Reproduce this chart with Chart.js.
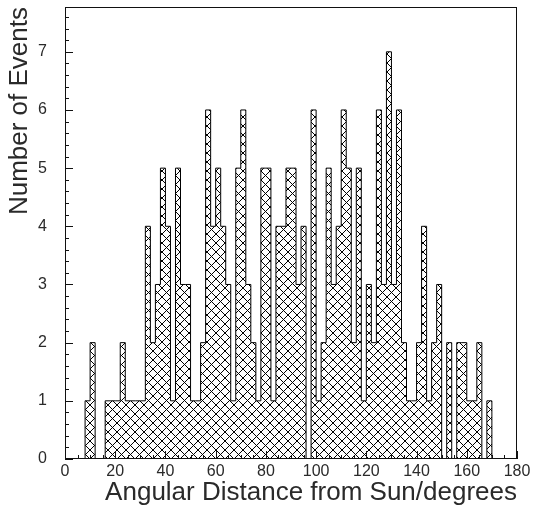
<!DOCTYPE html>
<html>
<head>
<meta charset="utf-8">
<script src="https://cdn.jsdelivr.net/npm/chart.js@4"></script>
<style>
  html, body { margin: 0; padding: 0; background: #fff; }
  #wrap { width: 535px; height: 506px; }
</style>
</head>
<body>
<div id="wrap"><canvas id="chart" width="535" height="506"></canvas></div>
<script>
// histogram: 2 degree bins from 0 to 180
const binWidth = 2;
const counts = [
  0, 0, 0, 0, 1, 2, 0, 0, 1, 1,   // 0-20
  1, 2, 1, 1, 1, 1, 4, 2, 3, 5,   // 20-40
  4, 1, 5, 3, 3, 1, 1, 2, 6, 4,   // 40-60
  5, 4, 3, 1, 5, 6, 3, 2, 1, 5,   // 60-80
  5, 1, 4, 4, 5, 5, 3, 4, 0, 6,   // 80-100
  1, 2, 5, 3, 4, 6, 5, 2, 5, 1,   // 100-120
  3, 2, 6, 3, 7, 3, 6, 2, 1, 1,   // 120-140
  2, 4, 1, 2, 3, 0, 2, 0, 2, 2,   // 140-160
  1, 1, 2, 0, 1, 0, 0, 0, 0, 0    // 160-180
];
const xTicks = [0, 20, 40, 60, 80, 100, 120, 140, 160, 180];
const yTicks = [0, 1, 2, 3, 4, 5, 6, 7];
const xMinor = 5;
const yMinor = 0.2;

function hatch() {
  const n = 9;
  const c = document.createElement("canvas");
  c.width = n;
  c.height = n;
  const g = c.getContext("2d");
  g.strokeStyle = "#000";
  g.lineWidth = 1;
  g.beginPath();
  g.moveTo(-1, -1); g.lineTo(n + 1, n + 1);
  g.moveTo(-1, n + 1); g.lineTo(n + 1, -1);
  g.stroke();
  return g.createPattern(c, "repeat");
}

// step outline points at the left edge of every bin
const steps = counts.map((c, i) => ({ x: i * binWidth, y: c }));
steps.push({ x: counts.length * binWidth, y: 0 });

const frame = {
  id: "frame",
  afterDatasetsDraw(chart) {
    const { ctx, chartArea: a, scales: { x, y } } = chart;
    ctx.save();
    ctx.strokeStyle = "#111";
    ctx.lineWidth = 1;
    ctx.beginPath();
    for (let k = 0; k * xMinor <= 180; k++) {
      const v = k * xMinor;
      const px = Math.round(x.getPixelForValue(v)) + 0.5;
      const len = v % 20 === 0 ? 8 : 4;
      ctx.moveTo(px, a.bottom);
      ctx.lineTo(px, a.bottom - len);
    }
    for (let k = 0; k * yMinor <= 7.7; k++) {
      const py = Math.round(y.getPixelForValue(k * yMinor)) + 0.5;
      const len = k % 5 === 0 ? 8 : 4;
      ctx.moveTo(a.left, py);
      ctx.lineTo(a.left + len, py);
    }
    ctx.stroke();
    ctx.strokeRect(a.left + 0.5, a.top + 0.5, a.width - 1, a.height - 1);
    ctx.restore();
  }
};

const font = "'Liberation Sans', Arial, sans-serif";
const ink = "#2a2a2a";

new Chart(document.getElementById("chart"), {
  type: "line",
  data: {
    datasets: [
      {
        data: steps,
        stepped: true,
        fill: "origin",
        backgroundColor: hatch(),
        borderColor: "#000",
        borderWidth: 1,
        pointRadius: 0,
      },
    ],
  },
  options: {
    responsive: false,
    animation: false,
    layout: { padding: { left: 0, right: 18, top: 7, bottom: 0 } },
    plugins: { legend: { display: false }, tooltip: { enabled: false } },
    scales: {
      x: {
        type: "linear",
        min: 0,
        max: 180,
        grid: { display: false, drawTicks: false },
        border: { display: false },
        afterBuildTicks: (s) => { s.ticks = xTicks.map((v) => ({ value: v })); },
        afterFit: (s) => { s.height = 47; },
        ticks: { padding: 3, color: ink, font: { family: font, size: 16 }, maxRotation: 0, autoSkip: false },
        title: {
          display: true,
          text: "Angular Distance from Sun/degrees",
          align: "end",
          color: ink,
          font: { family: font, size: 26 },
          padding: { top: 4, bottom: -2 },
        },
      },
      y: {
        min: 0,
        max: 7.77,
        grid: { display: false, drawTicks: true, tickLength: 22 },
        border: { display: false },
        afterBuildTicks: (s) => { s.ticks = yTicks.map((v) => ({ value: v })); },
        afterFit: (s) => { s.width = 65; },
        ticks: { padding: -4, color: ink, font: { family: font, size: 16 } },
        title: {
          display: true,
          text: "Number of Events",
          align: "end",
          color: ink,
          font: { family: font, size: 26 },
          padding: 4,
        },
      },
    },
  },
  plugins: [frame],
});
</script>
</body>
</html>
